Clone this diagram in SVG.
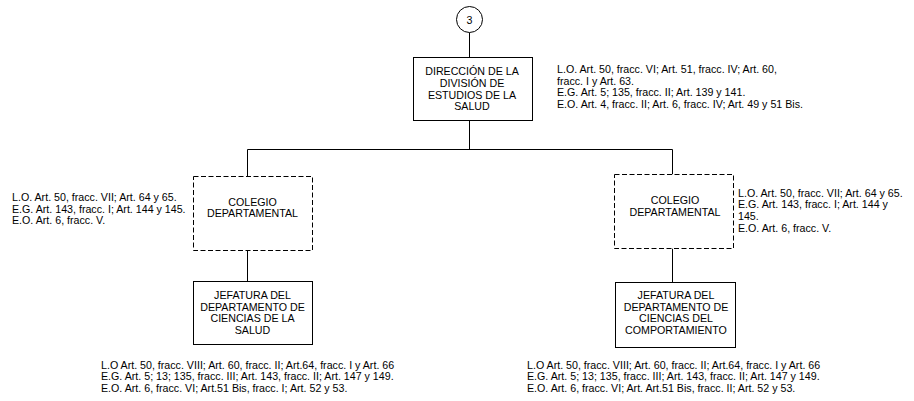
<svg xmlns="http://www.w3.org/2000/svg" width="914" height="401" viewBox="0 0 914 401">
<style>
text{font-family:"Liberation Sans",Arial,sans-serif;font-size:10.67px;fill:#000}
.c{text-anchor:middle}
.box{fill:#fff;stroke:#000;stroke-width:1}
.dash{fill:#fff;stroke:#000;stroke-width:1;stroke-dasharray:5 2.5}
.ln{fill:none;stroke:#000;stroke-width:1}
</style>
<rect width="914" height="401" fill="#fff"/>
<g id="connectors">
<line class="ln" x1="469.5" y1="32.5" x2="469.5" y2="57.5"/>
<line class="ln" x1="469.5" y1="120.5" x2="469.5" y2="149.5"/>
<line class="ln" x1="247.5" y1="149.5" x2="672.5" y2="149.5"/>
<line class="ln" x1="247.5" y1="149.5" x2="247.5" y2="176.5"/>
<line class="ln" x1="672.5" y1="149.5" x2="672.5" y2="174.5"/>
<line class="ln" x1="247.5" y1="250.5" x2="247.5" y2="281.5"/>
<line class="ln" x1="672.5" y1="248.5" x2="672.5" y2="282.5"/>
</g>
<g id="connector-3">
<circle class="box" cx="469.5" cy="19.5" r="13"/>
<text class="c" x="469.5" y="23.5">3</text>
</g>
<g id="direccion">
<rect class="box" x="413.5" y="57.5" width="119" height="63"/>
<text class="c" x="472" y="75.3">DIRECCIÓN DE LA</text>
<text class="c" x="472" y="87">DIVISIÓN DE</text>
<text class="c" x="472" y="98.7">ESTUDIOS DE LA</text>
<text class="c" x="472" y="110.4">SALUD</text>
</g>
<g id="direccion-notes">
<text x="557" y="73">L.O. Art. 50, fracc. VI; Art. 51, fracc. IV; Art. 60,</text>
<text x="557" y="84.7">fracc. I y Art. 63.</text>
<text x="557" y="96.4">E.G. Art. 5; 135, fracc. II; Art. 139 y 141.</text>
<text x="557" y="108.1">E.O. Art. 4, fracc. II; Art. 6, fracc. IV; Art. 49 y 51 Bis.</text>
</g>
<g id="colegio-left">
<rect class="dash" x="193.5" y="176.5" width="119" height="74"/>
<text class="c" x="252.5" y="205.5">COLEGIO</text>
<text class="c" x="252.5" y="217.2">DEPARTAMENTAL</text>
</g>
<g id="colegio-left-notes">
<text x="12" y="201">L.O. Art. 50, fracc. VII;  Art. 64 y 65.</text>
<text x="12" y="212.7">E.G. Art. 143, fracc. I; Art. 144 y 145.</text>
<text x="12" y="224.4">E.O. Art. 6, fracc. V.</text>
</g>
<g id="colegio-right">
<rect class="dash" x="614.5" y="174.5" width="119" height="74"/>
<text class="c" x="675" y="203.8">COLEGIO</text>
<text class="c" x="675" y="215.5">DEPARTAMENTAL</text>
</g>
<g id="colegio-right-notes">
<text x="738" y="196.5">L.O. Art. 50, fracc. VII;  Art. 64 y 65.</text>
<text x="738" y="208.2">E.G. Art. 143, fracc. I; Art. 144 y</text>
<text x="738" y="219.9">145.</text>
<text x="738" y="231.6">E.O. Art. 6, fracc. V.</text>
</g>
<g id="jefatura-salud">
<rect class="box" x="193.5" y="281.5" width="119" height="63"/>
<text class="c" x="252.5" y="298.8">JEFATURA DEL</text>
<text class="c" x="252.5" y="310.5">DEPARTAMENTO DE</text>
<text class="c" x="252.5" y="322.2">CIENCIAS DE LA</text>
<text class="c" x="252.5" y="333.9">SALUD</text>
</g>
<g id="jefatura-salud-notes">
<text x="101" y="368.5">L.O  Art. 50, fracc. VIII; Art. 60, fracc. II; Art.64, fracc. I y Art. 66</text>
<text x="101" y="380.2">E.G. Art. 5; 13; 135, fracc. III; Art. 143, fracc. II; Art. 147 y 149.</text>
<text x="101" y="391.9">E.O. Art. 6, fracc. VI; Art.51 Bis, fracc. I; Art. 52 y 53.</text>
</g>
<g id="jefatura-comportamiento">
<rect class="box" x="615.5" y="282.5" width="120" height="65"/>
<text class="c" x="676" y="299">JEFATURA DEL</text>
<text class="c" x="676" y="310.7">DEPARTAMENTO DE</text>
<text class="c" x="676" y="322.4">CIENCIAS DEL</text>
<text class="c" x="676" y="334.1">COMPORTAMIENTO</text>
</g>
<g id="jefatura-comportamiento-notes">
<text x="527" y="368.5">L.O  Art. 50, fracc. VIII; Art. 60, fracc. II; Art.64, fracc. I y Art. 66</text>
<text x="527" y="380.2">E.G. Art. 5; 13; 135, fracc. III; Art. 143, fracc. II; Art. 147 y 149.</text>
<text x="527" y="391.9">E.O. Art. 6, fracc. VI; Art. Art.51 Bis, fracc. II; Art. 52 y 53.</text>
</g>
</svg>
